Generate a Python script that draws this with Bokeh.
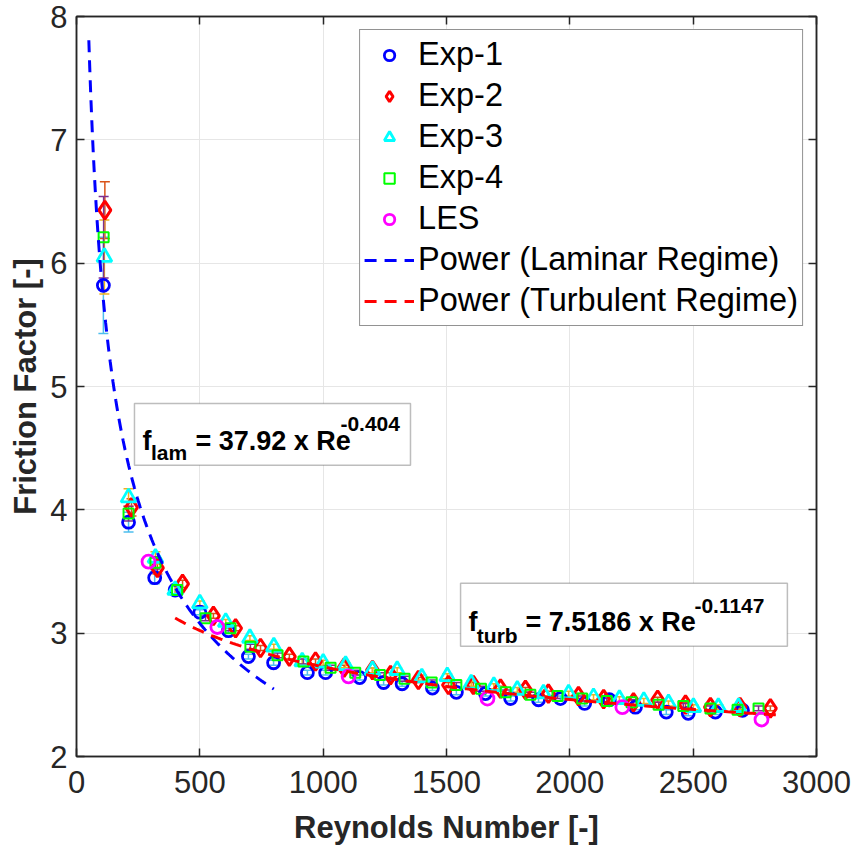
import numpy as np
from bokeh.plotting import figure
from bokeh.models import (ColumnDataSource, Whisker, TeeHead, Legend, LegendItem,
                          BoxAnnotation, Label, FixedTicker, Range1d, LinearAxis)
from bokeh.embed import file_html
from bokeh.resources import INLINE

# ---------------- data ----------------
re1 = [109, 211, 317, 400, 500, 616, 697, 799, 936, 1010, 1148, 1245, 1320, 1443, 1540, 1658,
       1760, 1873, 1962, 2060, 2160, 2266, 2391, 2480, 2590, 2700]
f1 = [5.82, 3.90, 3.45, 3.35, 3.17, 3.02, 2.81, 2.76, 2.68, 2.68, 2.64, 2.60, 2.59, 2.555, 2.52, 2.51,
      2.47, 2.46, 2.47, 2.43, 2.46, 2.40, 2.36, 2.35, 2.36, 2.375]
e1 = [0.39, 0.08, 0.05, 0.03, 0.02, 0.02, 0.02, 0.02, 0.02, 0.02, 0.02, 0.02, 0.02, 0.02, 0.02, 0.02,
      0.02, 0.02, 0.02, 0.02, 0.02, 0.02, 0.02, 0.02, 0.02, 0.02]

re2 = [115, 223, 328, 430, 555, 645, 746, 863, 969, 1085, 1200, 1273, 1386, 1508, 1609, 1719,
       1820, 1913, 2035, 2137, 2258, 2356, 2469, 2570, 2690, 2813]
f2 = [6.43, 4.02, 3.53, 3.40, 3.14, 3.04, 2.88, 2.81, 2.77, 2.72, 2.70, 2.66, 2.62, 2.58, 2.58, 2.55,
      2.54, 2.51, 2.49, 2.465, 2.44, 2.46, 2.42, 2.40, 2.40, 2.39]
e2 = [0.23, 0.07, 0.05, 0.03, 0.02, 0.02, 0.02, 0.02, 0.02, 0.02, 0.02, 0.02, 0.02, 0.02, 0.02, 0.02,
      0.02, 0.02, 0.02, 0.02, 0.02, 0.02, 0.02, 0.02, 0.02, 0.02]

re3 = [113, 211, 320, 400, 500, 605, 703, 800, 915, 1000, 1091, 1200, 1300, 1400, 1503, 1600,
       1692, 1787, 1893, 1995, 2096, 2201, 2300, 2400, 2501, 2602, 2684]
f3 = [6.05, 4.10, 3.61, 3.35, 3.24, 3.09, 2.96, 2.89, 2.77, 2.76, 2.74, 2.70, 2.70, 2.64, 2.65, 2.59,
      2.57, 2.54, 2.51, 2.51, 2.48, 2.465, 2.45, 2.43, 2.40, 2.40, 2.40]
e3 = [0.30, 0.07, 0.05, 0.03, 0.02, 0.02, 0.02, 0.02, 0.02, 0.02, 0.02, 0.02, 0.02, 0.02, 0.02, 0.02,
      0.02, 0.02, 0.02, 0.02, 0.02, 0.02, 0.02, 0.02, 0.02, 0.02, 0.02]

re4 = [110, 211, 320, 408, 523, 624, 705, 815, 920, 1030, 1130, 1230, 1330, 1440, 1540, 1640,
       1740, 1840, 1950, 2050, 2150, 2250, 2360, 2460, 2570, 2680, 2765]
f4 = [6.21, 3.97, 3.57, 3.35, 3.12, 3.04, 2.89, 2.82, 2.77, 2.72, 2.68, 2.66, 2.63, 2.60, 2.58, 2.55,
      2.52, 2.50, 2.49, 2.47, 2.45, 2.44, 2.42, 2.41, 2.39, 2.38, 2.39]
e4 = [0.33, 0.06, 0.05, 0.03, 0.02, 0.02, 0.02, 0.02, 0.02, 0.02, 0.02, 0.02, 0.02, 0.02, 0.02, 0.02,
      0.02, 0.02, 0.02, 0.02, 0.02, 0.02, 0.02, 0.02, 0.02, 0.02, 0.02]

re_les = [292, 571, 1103, 1666, 2213, 2777]
f_les = [3.58, 3.05, 2.65, 2.47, 2.40, 2.30]

# power-law fit curves (coefficient, exponent, Re range)
lam_c, lam_b, lam_range = 37.92, -0.404, (50, 800)
turb_c, turb_b, turb_range = 7.57, -0.1478, (400, 2850)

x_ticks = [0, 500, 1000, 1500, 2000, 2500, 3000]
y_ticks = [2, 3, 4, 5, 6, 7, 8]

FONT = "Liberation Sans"
AX = "#262626"

p = figure(width=856, height=852, output_backend="svg", toolbar_location=None,
           x_range=Range1d(0, 3000), y_range=Range1d(2, 8),
           min_border_left=76, min_border_right=40, min_border_top=16, min_border_bottom=96)
p.background_fill_color = "white"
p.border_fill_color = "white"
p.outline_line_color = AX
p.outline_line_width = 1.5

for ax, ticks in ((p.xaxis, x_ticks), (p.yaxis, y_ticks)):
    ax.ticker = FixedTicker(ticks=ticks)
    ax.major_tick_in = 8
    ax.major_tick_out = 0
    ax.minor_tick_line_color = None
    ax.axis_line_color = AX
    ax.axis_line_width = 1.5
    ax.major_tick_line_color = AX
    ax.major_tick_line_width = 1.5
    ax.major_label_text_font = FONT
    ax.major_label_text_font_size = "31px"
    ax.major_label_text_color = AX
    ax.axis_label_text_font = FONT
    ax.axis_label_text_font_size = "31px"
    ax.axis_label_text_font_style = "bold"
    ax.axis_label_text_color = AX

p.xaxis.axis_label = "Reynolds Number [-]"
p.yaxis.axis_label = "Friction Factor [-]"
p.xaxis.major_label_standoff = 14
p.xaxis.axis_label_standoff = 14
p.yaxis.major_label_standoff = 9
p.yaxis.axis_label_standoff = 4

# top and right tick marks (MATLAB box)
top = LinearAxis(ticker=FixedTicker(ticks=x_ticks), major_tick_in=8, major_tick_out=0,
                 minor_tick_line_color=None, axis_line_color=AX, axis_line_width=1.5,
                 major_tick_line_color=AX, major_tick_line_width=1.5,
                 major_label_overrides={t: "" for t in x_ticks}, major_label_text_font_size="1px")
right = LinearAxis(ticker=FixedTicker(ticks=y_ticks), major_tick_in=8, major_tick_out=0,
                   minor_tick_line_color=None, axis_line_color=AX, axis_line_width=1.5,
                   major_tick_line_color=AX, major_tick_line_width=1.5,
                   major_label_overrides={t: "" for t in y_ticks}, major_label_text_font_size="1px")
p.add_layout(top, "above")
p.add_layout(right, "right")

p.xgrid.ticker = FixedTicker(ticks=x_ticks)
p.ygrid.ticker = FixedTicker(ticks=y_ticks)
p.grid.grid_line_color = "#E6E6E6"
p.grid.grid_line_width = 1

# scatter series
r1 = p.scatter(re1, f1, marker="circle", size=12, line_color="#0000FF", fill_color=None, line_width=2.8)
r2 = p.scatter(re2, f2, marker="diamond", size=18, line_color="#FF0000", fill_color=None, line_width=3)
r3 = p.scatter(re3, f3, marker="triangle", size=15, line_color="#00FFFF", fill_color=None, line_width=2.8)
r4 = p.scatter(re4, f4, marker="square", size=10, line_color="#00FF00", fill_color=None, line_width=2)
r5 = p.scatter(re_les, f_les, marker="circle", size=13, line_color="#FF00FF", fill_color=None, line_width=2.8)

# error bars
for xs, ys, es, col in ((re1, f1, e1, "#4DBEEE"), (re2, f2, e2, "#D95319"),
                        (re3, f3, e3, "#EDB120"), (re4, f4, e4, "#7E2F8E")):
    src = ColumnDataSource(dict(x=xs, up=[y + e for y, e in zip(ys, es)],
                                lo=[y - e for y, e in zip(ys, es)]))
    w = Whisker(base="x", upper="up", lower="lo", source=src, line_color=col, line_width=1.5,
                upper_head=TeeHead(size=10, line_color=col, line_width=1.5),
                lower_head=TeeHead(size=10, line_color=col, line_width=1.5))
    p.add_layout(w)

# fit lines
x_lam = np.linspace(lam_range[0], lam_range[1], 200)
x_turb = np.linspace(turb_range[0], turb_range[1], 200)
r6 = p.line(x_lam, lam_c * x_lam ** lam_b, line_color="#0000FF", line_width=3, line_dash="12 8")
r7 = p.line(x_turb, turb_c * x_turb ** turb_b, line_color="#FF0000", line_width=3, line_dash="12 8")

legend = Legend(items=[LegendItem(label="Exp-1", renderers=[r1]),
                       LegendItem(label="Exp-2", renderers=[r2]),
                       LegendItem(label="Exp-3", renderers=[r3]),
                       LegendItem(label="Exp-4", renderers=[r4]),
                       LegendItem(label="LES", renderers=[r5]),
                       LegendItem(label="Power (Laminar Regime)", renderers=[r6]),
                       LegendItem(label="Power (Turbulent Regime)", renderers=[r7])],
                location="top_right", margin=13, padding=4, spacing=0,
                label_text_font=FONT, label_text_font_size="32.5px", label_text_color="#000000",
                glyph_width=50, glyph_height=26, label_height=41, label_standoff=4,
                border_line_color=AX, border_line_width=1, background_fill_color="white",
                background_fill_alpha=1)
p.add_layout(legend)

# equation boxes
p.add_layout(BoxAnnotation(left=235, right=1354, bottom=4.361, top=4.863, fill_color="white",
                           fill_alpha=1, line_color=AX, line_width=1.5, level="overlay"))
p.add_layout(BoxAnnotation(left=1557, right=2882, bottom=2.894, top=3.405, fill_color="white",
                           fill_alpha=1, line_color=AX, line_width=1.5, level="overlay"))


def lab(x, y, text, size):
    p.add_layout(Label(x=x, y=y, text=text, text_font=FONT, text_font_style="bold",
                       text_font_size=size, text_color="#000000", text_baseline="alphabetic",
                       text_align="left", level="overlay"))


lab(268, 4.555, "f", "27px")
lab(302, 4.466, "lam", "21px")
lab(482, 4.555, "= 37.92 x Re", "27px")
lab(1070, 4.70, "-0.404", "21px")

lab(1589, 3.088, "f", "27px")
lab(1623, 2.985, "turb", "21px")
lab(1820, 3.088, "= 7.5186 x Re", "27px")
lab(2505, 3.22, "-0.1147", "21px")

open("out.html", "w").write(file_html(p, INLINE))
